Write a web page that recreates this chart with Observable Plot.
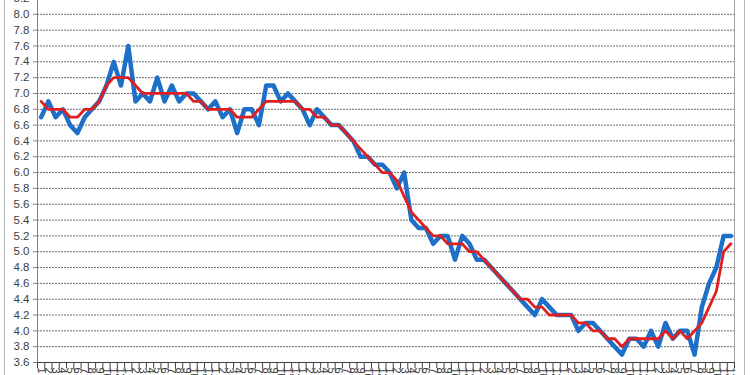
<!DOCTYPE html>
<html><head><meta charset="utf-8">
<script src="https://cdn.jsdelivr.net/npm/d3@7"></script>
<script src="https://cdn.jsdelivr.net/npm/@observablehq/plot@0.6"></script>
<style>
body{margin:0;background:#fff;overflow:hidden}
#wrap{position:relative;width:750px;height:375px;overflow:hidden}
#frame{position:absolute;left:4px;top:-5px;width:739px;height:400px;border:1px solid #b8b8b8;pointer-events:none}
</style></head><body><div id="wrap"><div id="frame"></div></div>
<script>
// monthly values (blue = actual, red = trend)
const blue = [6.7,6.9,6.7,6.8,6.6,6.5,6.7,6.8,6.9,7.1,7.4,7.1,7.6,6.9,7.0,6.9,7.2,6.9,7.1,6.9,
  7.0,7.0,6.9,6.8,6.9,6.7,6.8,6.5,6.8,6.8,6.6,7.1,7.1,6.9,7.0,6.9,6.8,6.6,6.8,6.7,
  6.6,6.6,6.5,6.4,6.2,6.2,6.1,6.1,6.0,5.8,6.0,5.4,5.3,5.3,5.1,5.2,5.2,4.9,5.2,5.1,
  4.9,4.9,4.8,4.7,4.6,4.5,4.4,4.3,4.2,4.4,4.3,4.2,4.2,4.2,4.0,4.1,4.1,4.0,3.9,3.8,
  3.7,3.9,3.9,3.8,4.0,3.8,4.1,3.9,4.0,4.0,3.7,4.3,4.6,4.8,5.2,5.2];
const red = [6.9,6.8,6.8,6.8,6.7,6.7,6.8,6.8,6.9,7.1,7.2,7.2,7.2,7.1,7.0,7.0,7.0,7.0,7.0,7.0,
  7.0,6.9,6.9,6.8,6.8,6.8,6.8,6.7,6.7,6.7,6.8,6.9,6.9,6.9,6.9,6.9,6.8,6.8,6.7,6.7,
  6.6,6.6,6.5,6.4,6.3,6.2,6.1,6.0,6.0,5.9,5.7,5.5,5.4,5.3,5.2,5.2,5.1,5.1,5.1,5.0,
  5.0,4.9,4.8,4.7,4.6,4.5,4.4,4.4,4.3,4.3,4.2,4.2,4.2,4.2,4.1,4.1,4.0,4.0,3.9,3.9,
  3.8,3.9,3.9,3.9,3.9,3.9,4.0,3.9,4.0,3.9,4.0,4.1,4.3,4.5,5.0,5.1];
const months = ["1","2","3","4","5","6","7","8","9","10","11","12"];
const yTicks = [3.6,3.8,4.0,4.2,4.4,4.6,4.8,5.0,5.2,5.4,5.6,5.8,6.0,6.2,6.4,6.6,6.8,7.0,7.2,7.4,7.6,7.8,8.0,8.2];

const n = blue.length;
const idx = d3.range(n);
const xLabels = idx.map(i => months[i % 12]);
const bounds = d3.range(n + 1).map(i => i - 0.5);

const chart = Plot.plot({
  width: 750, height: 375,
  marginLeft: 37, marginRight: 16, marginTop: 0, marginBottom: 13,
  style: {fontFamily: "'Liberation Sans', Arial, sans-serif", fontSize: "11px", color: "#333", background: "#fff", overflow: "hidden"},
  x: {domain: [-0.5, n - 0.5], range: [37, 734], axis: null},
  y: {domain: [3.6, 8.2], range: [362, -2], axis: null},
  marks: [
    Plot.gridY(yTicks.slice(1), {stroke: "#6a6a6a", strokeOpacity: 1, strokeWidth: 1, strokeDasharray: "2,1"}),
    Plot.axisY(yTicks, {tickFormat: d => d.toFixed(1), tickSize: 4, tickPadding: 4, stroke: "#808080", fill: "#404040", fontSize: 11.5}),
    Plot.ruleX([n - 0.5], {stroke: "#a0a0a0"}),
    Plot.ruleX([-0.5], {stroke: "#808080"}),
    Plot.ruleY([3.6], {stroke: "#404040"}),
    Plot.ruleX(bounds, {x: d => d, y1: 3.6, y2: 3.52, stroke: "#404040"}),
    Plot.text(xLabels, {x: (d, i) => i, y: 3.6, text: d => d, rotate: 90, textAnchor: "start", dy: 5, fontSize: 11, fill: "#404040"}),
    Plot.line(blue, {x: (d, i) => i, y: d => d, stroke: "#1d6fc7", strokeWidth: 4.5, strokeLinejoin: "round", strokeLinecap: "round"}),
    Plot.line(red, {x: (d, i) => i, y: d => d, stroke: "#e02020", strokeWidth: 2.8, strokeLinejoin: "round", strokeLinecap: "round"})
  ]
});
document.getElementById("wrap").prepend(chart);
</script>
</body></html>
